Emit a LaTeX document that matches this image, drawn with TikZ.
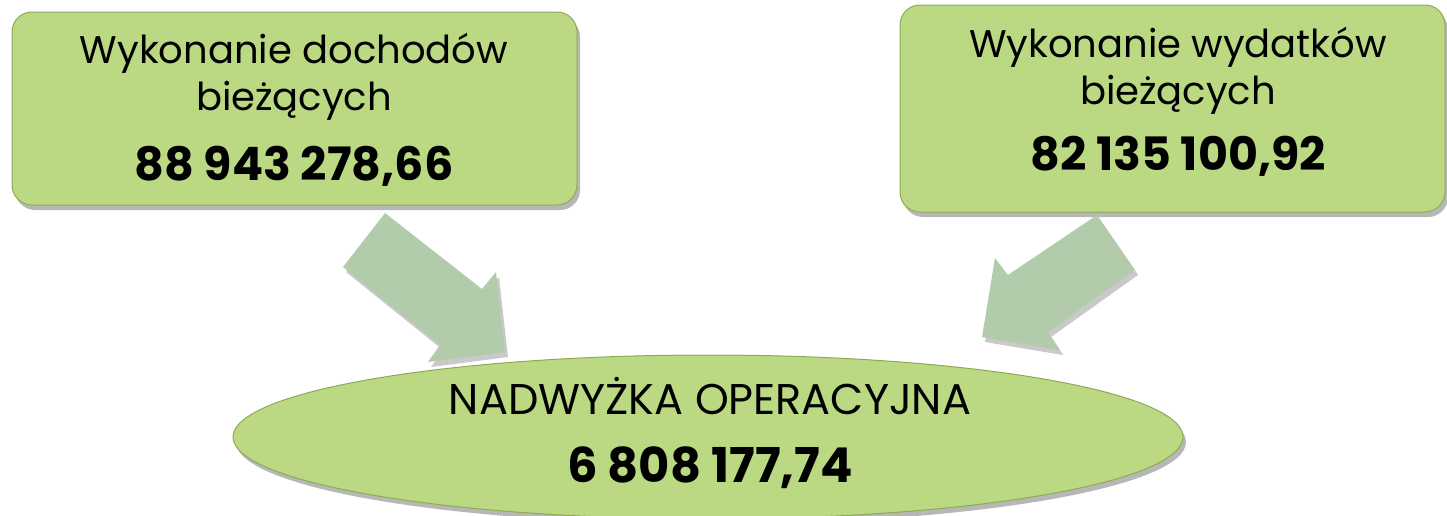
\documentclass[tikz,border=0pt]{standalone}
\usepackage{fontspec}
\setmainfont{Poppins}
\usetikzlibrary{shadows,shapes.geometric}
\definecolor{boxfill}{HTML}{BBD982}
\definecolor{boxline}{HTML}{8DAA55}
\definecolor{arrfill}{HTML}{B2CBAA}
\tikzset{
  gbox/.style={draw=boxline, line width=1pt, fill=boxfill, rounded corners=20pt,
    drop shadow={shadow xshift=3pt, shadow yshift=-5pt, opacity=0.4, fill=black!70}},
  bigarrow/.style={fill=arrfill,
    drop shadow={shadow xshift=3pt, shadow yshift=-5pt, opacity=0.3, fill=black!70}},
  lbl/.style={font=\fontsize{38.5}{42}\selectfont, inner sep=0pt, anchor=base},
  num/.style={font=\fontsize{46}{50}\selectfont\bfseries, inner sep=0pt, anchor=base},
}
\begin{document}
\begin{tikzpicture}[x=1pt,y=-1pt]
\useasboundingbox (0,0) rectangle (1447,515);
% boxes
\path[gbox] (12,12) rectangle (577,205);
\path[gbox] (900,5) rectangle (1445,212);
\node[lbl] (l1) at (294,63) {Wykonanie dochodów};
\node[lbl] (l2) at (294,110) {bieżących};
\node[num] (l3) at (294,180) {88 943 278,66};
\node[lbl] (r1) at (1178,57) {Wykonanie wydatków};
\node[lbl] (r2) at (1178,104) {bieżących};
\node[num] (r3) at (1178,170) {82 135 100,92};
% arrows
\path[bigarrow] (385,213) -- (482,289) -- (496,272) -- (505,352) -- (428,362) -- (440,345) -- (343,267) -- cycle;
\path[bigarrow] (1097,215) -- (1008,275) -- (995,258) -- (982,337) -- (1060,350) -- (1048,332) -- (1135,270) -- cycle;
% ellipse
\path[draw=boxline, line width=1pt, fill=boxfill,
  drop shadow={shadow xshift=3pt, shadow yshift=-5pt, opacity=0.4, fill=black!70}]
  (708,437) ellipse [x radius=475, y radius=82];
\node[lbl, font=\fontsize{43}{46}\selectfont] (e1) at (710,414) {NADWYŻKA OPERACYJNA};
\node[num, font=\fontsize{48}{52}\selectfont\bfseries] (e2) at (710,482) {6 808 177,74};
\end{tikzpicture}
\end{document}
